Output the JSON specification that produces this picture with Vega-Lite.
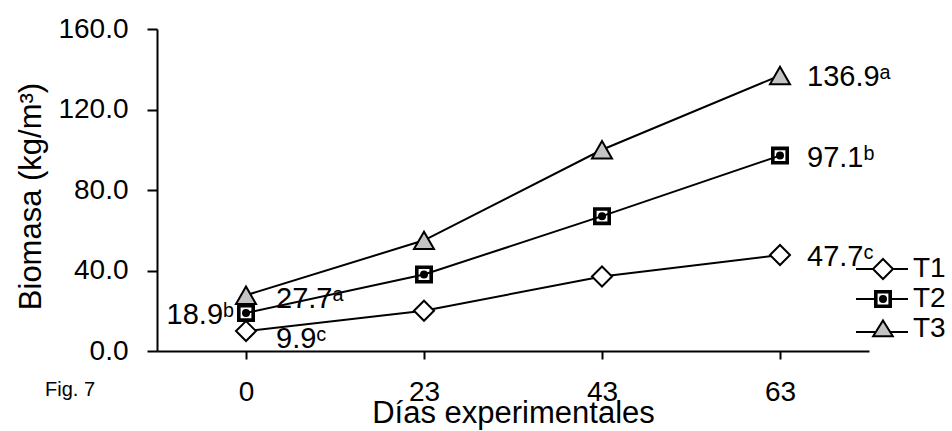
{
  "$schema": "https://vega.github.io/schema/vega-lite/v6.json",
  "width": 712,
  "height": 322,
  "autosize": {"type": "none"},
  "padding": {"left": 157, "top": 29, "right": 83, "bottom": 80},
  "background": "white",
  "title": {"text": "Fig. 7", "orient": "bottom", "anchor": "start", "frame": "group", "dx": -112, "dy": -52, "fontSize": 20, "font": "Liberation Sans", "fontWeight": "normal", "color": "black"},
  "config": {
    "view": {"stroke": null},
    "font": "Liberation Sans",
    "axis": {"domainColor": "black", "tickColor": "black", "labelColor": "black", "titleColor": "black", "domainWidth": 2, "tickWidth": 2, "grid": false, "labelFont": "Liberation Sans", "titleFont": "Liberation Sans", "titleFontWeight": "normal"}
  },
  "data": {"values": [
    {"day": 0, "series": "T1", "value": 9.9, "label": "9.9ᶜ"},
    {"day": 23, "series": "T1", "value": 20.0},
    {"day": 43, "series": "T1", "value": 37.0},
    {"day": 63, "series": "T1", "value": 47.7, "label": "47.7ᶜ"},
    {"day": 0, "series": "T2", "value": 18.9, "label": "18.9ᵇ"},
    {"day": 23, "series": "T2", "value": 38.0},
    {"day": 43, "series": "T2", "value": 67.0},
    {"day": 63, "series": "T2", "value": 97.1, "label": "97.1ᵇ"},
    {"day": 0, "series": "T3", "value": 27.7, "label": "27.7ᵃ"},
    {"day": 23, "series": "T3", "value": 55.0},
    {"day": 43, "series": "T3", "value": 100.0},
    {"day": 63, "series": "T3", "value": 136.9, "label": "136.9ᵃ"}
  ]},
  "encoding": {
    "x": {"field": "day", "type": "ordinal", "scale": {"type": "point", "padding": 0.5},
      "axis": {"title": "Días experimentales", "labelAngle": 0, "tickSize": 8, "labelPadding": 19, "labelFontSize": 28, "titleFontSize": 31, "titleY": 71, "titleBaseline": "alphabetic"}},
    "y": {"field": "value", "type": "quantitative", "scale": {"domain": [0, 160], "nice": false},
      "axis": {"values": [0, 40, 80, 120, 160], "format": ".1f", "title": "Biomasa (kg/m³)", "tickSize": 10, "labelPadding": 19, "labelFontSize": 28, "titleFontSize": 31, "titleX": -117, "titleY": 167, "titleAngle": -90, "titleBaseline": "alphabetic", "titleAlign": "center", "labelBaseline": "middle"}}
  },
  "layer": [
    {"mark": {"type": "line", "strokeWidth": 2},
      "encoding": {
        "stroke": {"field": "series", "type": "nominal",
          "scale": {"domain": ["T1", "T2", "T3"], "range": ["black", "black", "black"]},
          "legend": {"title": null, "orient": "none", "legendX": 712, "legendY": 226, "padding": 0, "symbolSize": 400, "symbolStrokeWidth": 2, "symbolOpacity": 1, "labelFontSize": 28, "labelFont": "Liberation Sans", "labelColor": "black", "labelOffset": 16, "rowPadding": 2,
            "encode": {"symbols": {"update": {
              "shape": {"signal": "datum.value === 'T1' ? 'M-2.7,0H-1M1,0H2.5M0,-1L1,0L0,1L-1,0Z' : datum.value === 'T2' ? 'M-2.7,0H-0.8M0.8,0H2.5M-0.8,-0.8H0.8V0.8H-0.8ZM-0.64,-0.64V0.64H0.64V-0.64ZM-0.3,0A0.3,0.3,0,1,1,0.3,0A0.3,0.3,0,1,1,-0.3,0Z' : 'M-2.7,0.3H-0.7M0.7,0.3H2.5M0,-0.85L0.98,0.72H-0.98Z'"},
              "fill": {"signal": "datum.value === 'T1' ? 'white' : datum.value === 'T2' ? 'black' : '#c4c4c4'"},
              "strokeWidth": {"value": 2},
              "opacity": {"value": 1}
            }}}}}
      }},
    {"transform": [{"filter": "datum.series == 'T1'"}],
      "mark": {"type": "point", "shape": "diamond", "filled": true, "fill": "white", "stroke": "black", "strokeWidth": 2, "size": 400, "opacity": 1}},
    {"transform": [{"filter": "datum.series == 'T2'"}],
      "mark": {"type": "point", "shape": "M-0.8,-0.8H0.8V0.8H-0.8ZM-0.64,-0.64V0.64H0.64V-0.64ZM-0.3,0A0.3,0.3,0,1,1,0.3,0A0.3,0.3,0,1,1,-0.3,0Z", "filled": true, "fill": "black", "stroke": "black", "strokeWidth": 2, "size": 400, "opacity": 1}},
    {"transform": [{"filter": "datum.series == 'T3'"}],
      "mark": {"type": "point", "shape": "triangle-up", "filled": true, "fill": "#c4c4c4", "stroke": "black", "strokeWidth": 2, "size": 400, "opacity": 1}},
    {"transform": [{"filter": "datum.day == 63"}],
      "mark": {"type": "text", "fontSize": 29, "font": "Liberation Sans", "color": "black", "align": "left", "baseline": "middle", "dx": 27, "dy": 2},
      "encoding": {"text": {"field": "label"}}},
    {"transform": [{"filter": "datum.day == 0 && datum.series == 'T3'"}],
      "mark": {"type": "text", "fontSize": 29, "font": "Liberation Sans", "color": "black", "align": "left", "baseline": "middle", "dx": 30, "dy": 4},
      "encoding": {"text": {"field": "label"}}},
    {"transform": [{"filter": "datum.day == 0 && datum.series == 'T2'"}],
      "mark": {"type": "text", "fontSize": 29, "font": "Liberation Sans", "color": "black", "align": "right", "baseline": "middle", "dx": -12, "dy": 2},
      "encoding": {"text": {"field": "label"}}},
    {"transform": [{"filter": "datum.day == 0 && datum.series == 'T1'"}],
      "mark": {"type": "text", "fontSize": 29, "font": "Liberation Sans", "color": "black", "align": "left", "baseline": "middle", "dx": 30, "dy": 8},
      "encoding": {"text": {"field": "label"}}}
  ]
}
